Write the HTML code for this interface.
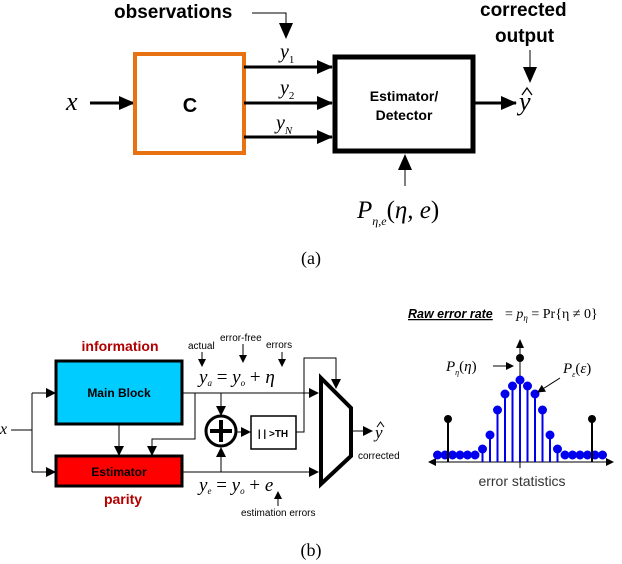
<!DOCTYPE html>
<html><head><meta charset="utf-8"><style>
html,body{margin:0;padding:0;background:#fff}
svg{display:block}
.s{font-family:"Liberation Sans",sans-serif}
.r{font-family:"Liberation Serif",serif;font-style:italic}
</style></head><body>
<svg width="622" height="564" viewBox="0 0 622 564" xmlns="http://www.w3.org/2000/svg">
<defs>
<marker id="a" markerWidth="10" markerHeight="10" refX="9" refY="5" orient="auto" markerUnits="userSpaceOnUse"><path d="M0,0 L10,5 L0,10 z" fill="#000"/></marker>
<marker id="A" markerWidth="16" markerHeight="14" refX="15" refY="7" orient="auto" markerUnits="userSpaceOnUse"><path d="M0,0 L16,7 L0,14 z" fill="#000"/></marker>
<marker id="b" markerWidth="8" markerHeight="8" refX="7" refY="4" orient="auto" markerUnits="userSpaceOnUse"><path d="M0,0 L8,4 L0,8 z" fill="#000"/></marker>
</defs>
<!-- (a) -->
<text x="114" y="18" class="s" font-size="19" font-weight="bold">observations</text>
<polyline points="252,13 286,13 286,38" fill="none" stroke="#000" stroke-width="1" marker-end="url(#A)"/>
<text x="480" y="16" class="s" font-size="19" font-weight="bold">corrected</text>
<text x="495" y="42" class="s" font-size="19" font-weight="bold">output</text>
<line x1="530" y1="50" x2="530" y2="82" stroke="#000" stroke-width="1" marker-end="url(#A)"/>
<text x="66" y="110" class="r" font-size="26">x</text>
<line x1="90" y1="103" x2="134" y2="103" stroke="#000" stroke-width="3" marker-end="url(#A)"/>
<rect x="135" y="54" width="109" height="99" fill="#fff" stroke="#e87211" stroke-width="4"/>
<text x="190" y="112" class="s" font-size="20" font-weight="bold" text-anchor="middle">C</text>
<line x1="244" y1="67" x2="332" y2="67" stroke="#000" stroke-width="3" marker-end="url(#A)"/>
<line x1="244" y1="103" x2="332" y2="103" stroke="#000" stroke-width="3" marker-end="url(#A)"/>
<line x1="244" y1="137" x2="332" y2="137" stroke="#000" stroke-width="3" marker-end="url(#A)"/>
<text x="280" y="58" class="r" font-size="20">y<tspan font-size="11" font-style="normal" dy="5">1</tspan></text>
<text x="280" y="94" class="r" font-size="20">y<tspan font-size="11" font-style="normal" dy="5">2</tspan></text>
<text x="276" y="129" class="r" font-size="20">y<tspan font-size="11" dy="5">N</tspan></text>
<rect x="335" y="57" width="138" height="94" fill="#fff" stroke="#000" stroke-width="5"/>
<text x="404" y="101" class="s" font-size="14" font-weight="bold" text-anchor="middle">Estimator/</text>
<text x="404" y="120" class="s" font-size="14" font-weight="bold" text-anchor="middle">Detector</text>
<line x1="475" y1="103" x2="516" y2="103" stroke="#000" stroke-width="3" marker-end="url(#A)"/>
<text x="519" y="110" class="r" font-size="26">y</text>
<path d="M522,95 L527,88 L532,95" fill="none" stroke="#000" stroke-width="1.3"/>
<line x1="405" y1="186" x2="405" y2="155" stroke="#000" stroke-width="1" marker-end="url(#A)"/>
<text x="357" y="218" class="r" font-size="25">P<tspan font-size="12" dy="7">η,e</tspan><tspan dy="-7" font-style="normal">(</tspan>η, e<tspan font-style="normal">)</tspan></text>
<text x="311" y="264" font-family="Liberation Serif" font-size="18" text-anchor="middle">(a)</text>

<!-- (b) -->
<text x="120" y="351" class="s" font-size="14" font-weight="bold" fill="#b00000" text-anchor="middle">information</text>
<text x="123" y="504" class="s" font-size="14" font-weight="bold" fill="#b00000" text-anchor="middle">parity</text>
<rect x="56" y="361" width="126" height="63" fill="#00ccff" stroke="#000" stroke-width="3"/>
<text x="119" y="397" class="s" font-size="12" font-weight="bold" text-anchor="middle">Main Block</text>
<rect x="56" y="456" width="126" height="30" fill="#f00" stroke="#000" stroke-width="3"/>
<text x="119" y="476" class="s" font-size="12" font-weight="bold" text-anchor="middle">Estimator</text>
<text x="0" y="434" class="r" font-size="16">x</text>
<polyline points="11,430 32,430" fill="none" stroke="#000"/>
<polyline points="32,393 32,472" fill="none" stroke="#000"/>
<line x1="32" y1="393" x2="55" y2="393" stroke="#000" marker-end="url(#a)"/>
<line x1="32" y1="472" x2="55" y2="472" stroke="#000" marker-end="url(#a)"/>
<line x1="119" y1="424" x2="119" y2="455" stroke="#000" marker-end="url(#a)"/>
<polyline points="195,393 195,439 152,439 152,455" fill="none" stroke="#000" marker-end="url(#a)"/>
<line x1="183" y1="393" x2="318" y2="393" stroke="#000" marker-end="url(#a)"/>
<line x1="183" y1="472" x2="318" y2="472" stroke="#000" marker-end="url(#a)"/>
<line x1="221" y1="393" x2="221" y2="415" stroke="#000" marker-end="url(#a)"/>
<line x1="221" y1="472" x2="221" y2="448" stroke="#000" marker-end="url(#a)"/>
<circle cx="221" cy="431" r="15" fill="#fff" stroke="#000" stroke-width="3"/>
<line x1="210" y1="431" x2="232" y2="431" stroke="#000" stroke-width="4"/>
<line x1="221" y1="420" x2="221" y2="442" stroke="#000" stroke-width="4"/>
<line x1="237" y1="432" x2="250" y2="432" stroke="#000" marker-end="url(#a)"/>
<rect x="251" y="416" width="45" height="33" fill="#fff" stroke="#000" stroke-width="1.5"/>
<text x="273" y="437" class="s" font-size="10" font-weight="bold" text-anchor="middle">| | &gt;TH</text>
<polyline points="296,432 304,432 304,358 336,358 336,388" fill="none" stroke="#000" marker-end="url(#a)"/>
<polygon points="321,378 351,408 351,456 321,484" fill="#fff" stroke="#000" stroke-width="4"/>
<line x1="352" y1="431" x2="372" y2="431" stroke="#000" marker-end="url(#a)"/>
<text x="375" y="438" class="r" font-size="17">y</text>
<path d="M377,427 L380.5,422 L384,427" fill="none" stroke="#000" stroke-width="1"/>
<text x="358" y="459" class="s" font-size="10">corrected</text>
<text x="188" y="349" class="s" font-size="10">actual</text>
<text x="220" y="341" class="s" font-size="10">error-free</text>
<text x="266" y="348" class="s" font-size="10">errors</text>
<line x1="202" y1="352" x2="202" y2="366" stroke="#000" marker-end="url(#b)"/>
<line x1="243" y1="344" x2="243" y2="362" stroke="#000" marker-end="url(#b)"/>
<line x1="282" y1="352" x2="282" y2="366" stroke="#000" marker-end="url(#b)"/>
<text x="199" y="383" class="r" font-size="19">y<tspan font-size="9" dy="3">a</tspan><tspan dy="-3" font-style="normal"> = </tspan>y<tspan font-size="9" dy="3">o</tspan><tspan dy="-3" font-style="normal"> + </tspan>η</text>
<text x="199" y="491" class="r" font-size="19">y<tspan font-size="9" dy="3">e</tspan><tspan dy="-3" font-style="normal"> = </tspan>y<tspan font-size="9" dy="3">o</tspan><tspan dy="-3" font-style="normal"> + </tspan>e</text>
<line x1="278" y1="506" x2="278" y2="492" stroke="#000" marker-end="url(#b)"/>
<text x="241" y="516" class="s" font-size="10">estimation errors</text>
<text x="311" y="556" font-family="Liberation Serif" font-size="18" text-anchor="middle">(b)</text>

<!-- stats -->
<text x="408" y="318" class="s" font-size="12.5" font-weight="bold" font-style="italic" text-decoration="underline">Raw error rate </text>
<text x="505" y="318" font-family="Liberation Serif" font-size="14">= <tspan font-style="italic">p</tspan><tspan font-size="9" font-style="italic" dy="3">η</tspan><tspan dy="-3"> = Pr{η ≠ 0}</tspan></text>
<line x1="430" y1="462" x2="612" y2="462" stroke="#000"/>
<path d="M428,462 l8,-4 v8 z M614,462 l-8,-4 v8 z" fill="#000"/>
<line x1="520" y1="468" x2="520" y2="345" stroke="#000"/>
<path d="M520,339 l-4,9 h8 z" fill="#000"/>
<g stroke="#0000ee" stroke-width="2" fill="#0000ee">
<line x1="520" y1="462" x2="520" y2="380"/><circle cx="520" cy="380" r="3.5"/>
<line x1="512.5" y1="462" x2="512.5" y2="386"/><circle cx="512.5" cy="386" r="3.5"/>
<line x1="527.5" y1="462" x2="527.5" y2="386"/><circle cx="527.5" cy="386" r="3.5"/>
<line x1="505" y1="462" x2="505" y2="394"/><circle cx="505" cy="394" r="3.5"/>
<line x1="535" y1="462" x2="535" y2="394"/><circle cx="535" cy="394" r="3.5"/>
<line x1="497.5" y1="462" x2="497.5" y2="410"/><circle cx="497.5" cy="410" r="3.5"/>
<line x1="542.5" y1="462" x2="542.5" y2="410"/><circle cx="542.5" cy="410" r="3.5"/>
<line x1="490" y1="462" x2="490" y2="435"/><circle cx="490" cy="435" r="3.5"/>
<line x1="550" y1="462" x2="550" y2="435"/><circle cx="550" cy="435" r="3.5"/>
<line x1="482.5" y1="462" x2="482.5" y2="449"/><circle cx="482.5" cy="449" r="3.5"/>
<line x1="557.5" y1="462" x2="557.5" y2="449"/><circle cx="557.5" cy="449" r="3.5"/>
<circle cx="475" cy="455" r="3.5"/><circle cx="467.5" cy="455" r="3.5"/><circle cx="460" cy="455" r="3.5"/><circle cx="452.5" cy="455" r="3.5"/><circle cx="445" cy="455" r="3.5"/><circle cx="437.5" cy="455" r="3.5"/>
<circle cx="565" cy="455" r="3.5"/><circle cx="572.5" cy="455" r="3.5"/><circle cx="580" cy="455" r="3.5"/><circle cx="587.5" cy="455" r="3.5"/><circle cx="595" cy="455" r="3.5"/><circle cx="602.5" cy="455" r="3.5"/>
</g>
<g stroke="#000" stroke-width="2" fill="#000">
<line x1="448" y1="462" x2="448" y2="419"/><circle cx="448" cy="419" r="3"/>
<line x1="592" y1="462" x2="592" y2="419"/><circle cx="592" cy="419" r="3"/>
<circle cx="520" cy="358" r="3"/>
</g>
<text x="446" y="371" class="r" font-size="15">P<tspan font-size="8" dy="4">η</tspan><tspan dy="-4" font-style="normal">(</tspan>η<tspan font-style="normal">)</tspan></text>
<line x1="493" y1="366" x2="513" y2="366" stroke="#000" marker-end="url(#b)"/>
<text x="563" y="373" class="r" font-size="15">P<tspan font-size="8" dy="4">ε</tspan><tspan dy="-4" font-style="normal">(</tspan>ε<tspan font-style="normal">)</tspan></text>
<line x1="560" y1="378" x2="538" y2="392" stroke="#000" marker-end="url(#b)"/>
<text x="522" y="486" class="s" font-size="14" fill="#333" text-anchor="middle">error statistics</text>
</svg>
</body></html>
